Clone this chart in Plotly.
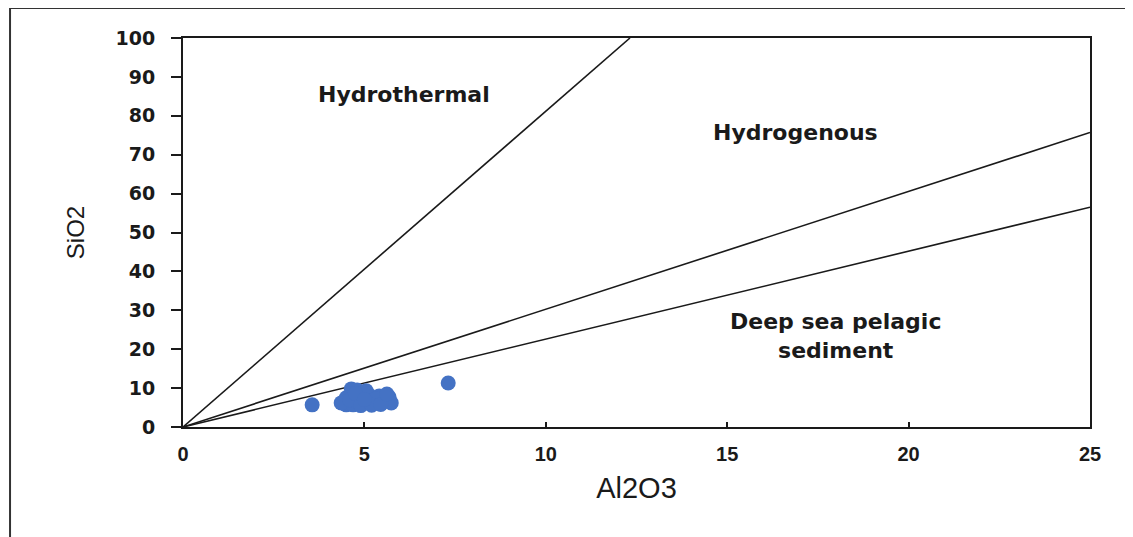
import plotly.graph_objects as go

# Sample data (Al2O3 vs SiO2)
al2o3 = [3.56, 7.31, 4.64, 4.50, 4.50, 4.69, 4.86, 4.97, 5.13, 5.24, 5.41, 5.55, 5.68, 5.74,
         4.80, 5.05, 4.36, 5.30, 4.60, 4.90, 5.20, 5.45, 5.62, 4.75, 5.00]
sio2 = [5.7, 11.3, 9.8, 7.5, 5.7, 5.7, 8.0, 6.2, 8.2, 6.4, 8.0, 6.7, 7.7, 6.2,
        9.5, 9.3, 6.2, 7.2, 7.0, 5.5, 5.6, 5.8, 8.5, 8.6, 7.1]

# Discrimination boundary lines (start and end points)
line1_x = [0, 12.32]
line1_y = [0, 100]
line2_x = [0, 25]
line2_y = [0, 75.7]
line3_x = [0, 25]
line3_y = [0, 56.5]

# Field labels
field_labels = ["Hydrothermal", "Hydrogenous", "Deep sea pelagic<br>sediment"]
field_x = [6.08, 16.88, 17.98]
field_y = [85.6, 75.8, 23.4]

x_ticks = [0, 5, 10, 15, 20, 25]
y_ticks = [0, 10, 20, 30, 40, 50, 60, 70, 80, 90, 100]

fig = go.Figure()
for lx, ly in [(line1_x, line1_y), (line2_x, line2_y), (line3_x, line3_y)]:
    fig.add_trace(go.Scatter(x=lx, y=ly, mode="lines",
                             line=dict(color="#1a1a1a", width=1.6),
                             showlegend=False, hoverinfo="skip"))

fig.add_trace(go.Scatter(x=al2o3, y=sio2, mode="markers",
                         marker=dict(color="#4472C4", size=15, line=dict(width=0)),
                         showlegend=False))

for t, x, y in zip(field_labels, field_x, field_y):
    fig.add_annotation(x=x, y=y, text=t, showarrow=False, align="center",
                       font=dict(family="DejaVu Sans", size=22, color="#1a1a1a", weight="bold"))

# outer frame (left and top edges)
fig.add_shape(type="line", xref="paper", yref="paper", x0=-0.1907, x1=-0.1907, y0=1.0771, y1=-0.3,
              line=dict(color="#333333", width=2))
fig.add_shape(type="line", xref="paper", yref="paper", x0=-0.1907, x1=1.06, y0=1.0771, y1=1.0771,
              line=dict(color="#333333", width=2))

fig.update_layout(
    width=1125, height=529,
    margin=dict(l=175, r=43, t=30, b=110),
    paper_bgcolor="white", plot_bgcolor="white",
    showlegend=False,
    xaxis=dict(range=[0, 25], tickvals=x_ticks, showgrid=False, zeroline=False,
               showline=True, linecolor="#1a1a1a", linewidth=2, mirror=True,
               ticks="inside", ticklen=5, tickwidth=2, tickcolor="#1a1a1a",
               ticklabelstandoff=8,
               tickfont=dict(family="Liberation Sans", size=20, color="#1a1a1a", weight="bold"),
               title=dict(text="Al2O3", font=dict(family="Liberation Sans", size=29, color="#1a1a1a"),
                          standoff=14)),
    yaxis=dict(range=[0, 100], tickvals=y_ticks, showgrid=False, zeroline=False,
               showline=True, linecolor="#1a1a1a", linewidth=2, mirror=True,
               ticks="outside", ticklen=10, tickwidth=2, tickcolor="#1a1a1a",
               ticklabelstandoff=12,
               tickfont=dict(family="DejaVu Sans", size=19, color="#1a1a1a", weight="bold"),
               title=dict(text="SiO2", font=dict(family="Liberation Sans", size=24, color="#1a1a1a"),
                          standoff=24)),
)

fig.write_html("out.html")
